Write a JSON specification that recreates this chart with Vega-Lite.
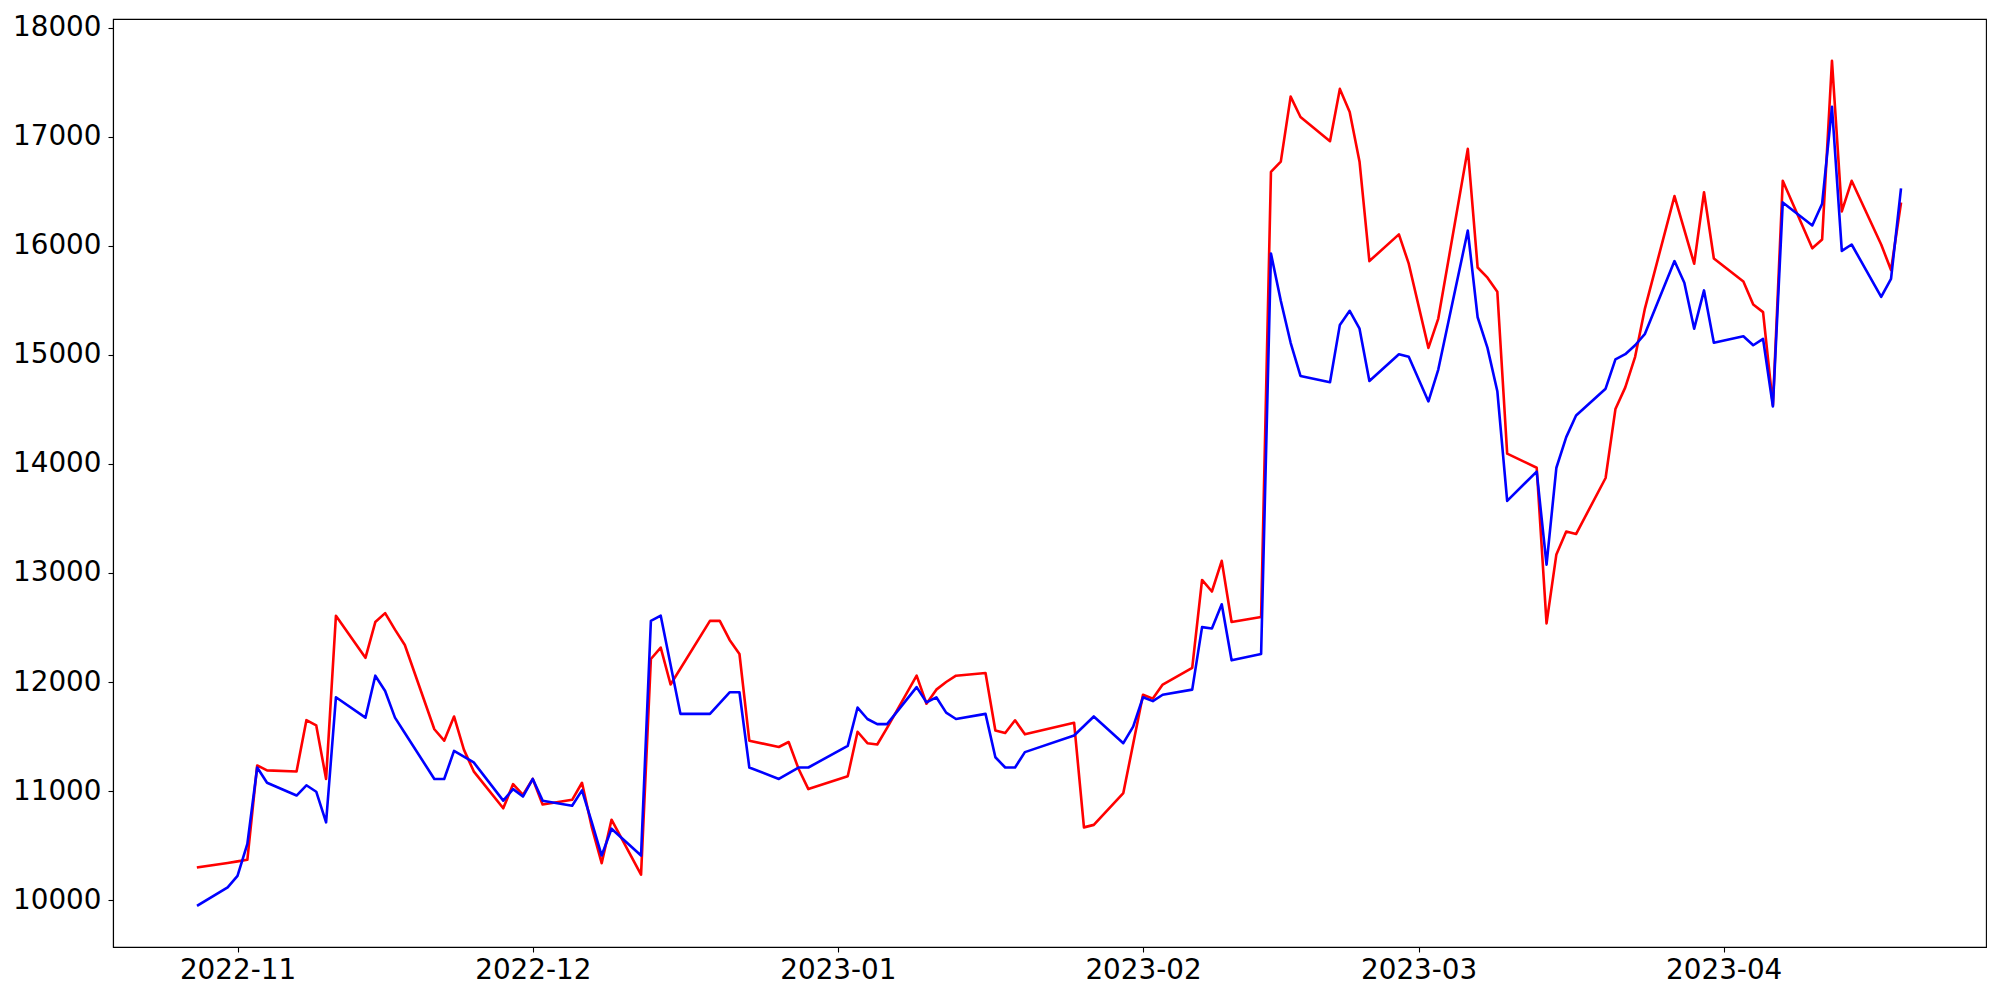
{
  "$schema": "https://vega.github.io/schema/vega-lite/v6.json",
  "width": 1873,
  "height": 928,
  "autosize": {"type": "none"},
  "padding": {"left": 113, "top": 19, "right": 14, "bottom": 53},
  "background": "white",
  "config": {
    "view": {"stroke": "black", "strokeWidth": 1.1},
    "font": "DejaVu Sans",
    "axis": {
      "grid": false,
      "domainColor": "black",
      "domainWidth": 1.1,
      "tickColor": "black",
      "tickWidth": 1.1,
      "tickSize": 5,
      "labelFont": "DejaVu Sans",
      "labelFontSize": 27.8,
      "labelColor": "black",
      "title": null
    }
  },
  "data": {
    "values": [
      {"d": "2022-10-28", "r": 10300, "b": 9953},
      {"d": "2022-10-31", "r": 10340, "b": 10117},
      {"d": "2022-11-01", "r": 10355, "b": 10222},
      {"d": "2022-11-02", "r": 10370, "b": 10515},
      {"d": "2022-11-03", "r": 11235, "b": 11216},
      {"d": "2022-11-04", "r": 11190, "b": 11076},
      {"d": "2022-11-07", "r": 11180, "b": 10959},
      {"d": "2022-11-08", "r": 11650, "b": 11053},
      {"d": "2022-11-09", "r": 11602, "b": 10994},
      {"d": "2022-11-10", "r": 11111, "b": 10713},
      {"d": "2022-11-11", "r": 12608, "b": 11860},
      {"d": "2022-11-14", "r": 12222, "b": 11673},
      {"d": "2022-11-15", "r": 12550, "b": 12058},
      {"d": "2022-11-16", "r": 12632, "b": 11918},
      {"d": "2022-11-17", "r": 12480, "b": 11673},
      {"d": "2022-11-18", "r": 12339, "b": 11532},
      {"d": "2022-11-21", "r": 11567, "b": 11111},
      {"d": "2022-11-22", "r": 11462, "b": 11111},
      {"d": "2022-11-23", "r": 11684, "b": 11368},
      {"d": "2022-11-24", "r": 11380},
      {"d": "2022-11-25", "r": 11181, "b": 11263},
      {"d": "2022-11-28", "r": 10842, "b": 10912},
      {"d": "2022-11-29", "r": 11064, "b": 11018},
      {"d": "2022-11-30", "r": 10965, "b": 10950},
      {"d": "2022-12-01", "r": 11111, "b": 11111},
      {"d": "2022-12-02", "r": 10877, "b": 10912},
      {"d": "2022-12-05", "r": 10920, "b": 10865},
      {"d": "2022-12-06", "r": 11076, "b": 11006},
      {"d": "2022-12-07", "r": 10667, "b": 10713},
      {"d": "2022-12-08", "r": 10339, "b": 10409},
      {"d": "2022-12-09", "r": 10737, "b": 10655},
      {"d": "2022-12-12", "r": 10234, "b": 10409},
      {"d": "2022-12-13", "r": 12211, "b": 12561},
      {"d": "2022-12-14", "r": 12316, "b": 12608},
      {"d": "2022-12-15", "r": 11977},
      {"d": "2022-12-16", "b": 11708},
      {"d": "2022-12-19", "r": 12561, "b": 11708},
      {"d": "2022-12-20", "r": 12561},
      {"d": "2022-12-21", "r": 12386, "b": 11906},
      {"d": "2022-12-22", "r": 12257, "b": 11906},
      {"d": "2022-12-23", "r": 11462, "b": 11216},
      {"d": "2022-12-26", "r": 11404, "b": 11111},
      {"d": "2022-12-27", "r": 11450},
      {"d": "2022-12-28", "r": 11205, "b": 11216},
      {"d": "2022-12-29", "r": 11018, "b": 11216},
      {"d": "2023-01-02", "r": 11135, "b": 11415},
      {"d": "2023-01-03", "r": 11544, "b": 11766},
      {"d": "2023-01-04", "r": 11439, "b": 11661},
      {"d": "2023-01-05", "r": 11427, "b": 11614},
      {"d": "2023-01-06", "r": 11579, "b": 11614},
      {"d": "2023-01-09", "r": 12058, "b": 11953},
      {"d": "2023-01-10", "r": 11801, "b": 11813},
      {"d": "2023-01-11", "r": 11930, "b": 11860},
      {"d": "2023-01-12", "r": 12000, "b": 11719},
      {"d": "2023-01-13", "r": 12058, "b": 11661},
      {"d": "2023-01-16", "r": 12082, "b": 11708},
      {"d": "2023-01-17", "r": 11556, "b": 11310},
      {"d": "2023-01-18", "r": 11532, "b": 11216},
      {"d": "2023-01-19", "r": 11649, "b": 11216},
      {"d": "2023-01-20", "r": 11520, "b": 11357},
      {"d": "2023-01-25", "r": 11626, "b": 11509},
      {"d": "2023-01-26", "r": 10667},
      {"d": "2023-01-27", "r": 10690, "b": 11684},
      {"d": "2023-01-30", "r": 10982, "b": 11439},
      {"d": "2023-01-31", "b": 11591},
      {"d": "2023-02-01", "r": 11883, "b": 11860},
      {"d": "2023-02-02", "r": 11848, "b": 11825},
      {"d": "2023-02-03", "r": 11977, "b": 11883},
      {"d": "2023-02-06", "r": 12129, "b": 11930},
      {"d": "2023-02-07", "r": 12936, "b": 12503},
      {"d": "2023-02-08", "r": 12830, "b": 12491},
      {"d": "2023-02-09", "r": 13111, "b": 12713},
      {"d": "2023-02-10", "r": 12550, "b": 12199},
      {"d": "2023-02-13", "r": 12596, "b": 12257},
      {"d": "2023-02-14", "r": 16678, "b": 15930},
      {"d": "2023-02-15", "r": 16772, "b": 15497},
      {"d": "2023-02-16", "r": 17368, "b": 15111},
      {"d": "2023-02-17", "r": 17181, "b": 14807},
      {"d": "2023-02-20", "r": 16959, "b": 14749},
      {"d": "2023-02-21", "r": 17439, "b": 15275},
      {"d": "2023-02-22", "r": 17228, "b": 15404},
      {"d": "2023-02-23", "r": 16772, "b": 15240},
      {"d": "2023-02-24", "r": 15860, "b": 14760},
      {"d": "2023-02-27", "r": 16105, "b": 15006},
      {"d": "2023-02-28", "r": 15836, "b": 14982},
      {"d": "2023-03-02", "r": 15064, "b": 14573},
      {"d": "2023-03-03", "r": 15333, "b": 14865},
      {"d": "2023-03-06", "r": 16889, "b": 16140},
      {"d": "2023-03-07", "r": 15801, "b": 15345},
      {"d": "2023-03-08", "r": 15708, "b": 15064},
      {"d": "2023-03-09", "r": 15579, "b": 14667},
      {"d": "2023-03-10", "r": 14094, "b": 13661},
      {"d": "2023-03-13", "r": 13965, "b": 13930},
      {"d": "2023-03-14", "r": 12538, "b": 13076},
      {"d": "2023-03-15", "r": 13170, "b": 13965},
      {"d": "2023-03-16", "r": 13380, "b": 14246},
      {"d": "2023-03-17", "r": 13357, "b": 14444},
      {"d": "2023-03-20", "r": 13871, "b": 14690},
      {"d": "2023-03-21", "r": 14503, "b": 14959},
      {"d": "2023-03-22", "r": 14702, "b": 15006},
      {"d": "2023-03-23", "r": 14982, "b": 15088},
      {"d": "2023-03-24", "r": 15427, "b": 15193},
      {"d": "2023-03-27", "r": 16456, "b": 15860},
      {"d": "2023-03-28", "b": 15661},
      {"d": "2023-03-29", "r": 15836, "b": 15240},
      {"d": "2023-03-30", "r": 16491, "b": 15591},
      {"d": "2023-03-31", "r": 15883, "b": 15111},
      {"d": "2023-04-03", "r": 15673, "b": 15170},
      {"d": "2023-04-04", "r": 15462, "b": 15088},
      {"d": "2023-04-05", "r": 15392, "b": 15146},
      {"d": "2023-04-06", "r": 14538, "b": 14526},
      {"d": "2023-04-07", "r": 16596, "b": 16398},
      {"d": "2023-04-10", "r": 15977, "b": 16187},
      {"d": "2023-04-11", "r": 16058, "b": 16386},
      {"d": "2023-04-12", "r": 17696, "b": 17275},
      {"d": "2023-04-13", "r": 16316, "b": 15953},
      {"d": "2023-04-14", "r": 16596, "b": 16012},
      {"d": "2023-04-17", "r": 16012, "b": 15532},
      {"d": "2023-04-18", "r": 15778, "b": 15696},
      {"d": "2023-04-19", "r": 16386, "b": 16515}
    ]
  },
  "transform": [
    {"fold": ["r", "b"], "as": ["series", "value"]},
    {"filter": "isValid(datum.value)"}
  ],
  "encoding": {
    "x": {
      "field": "d",
      "type": "temporal",
      "scale": {
        "type": "utc",
        "domain": [
          {"year": 2022, "month": 10, "date": 19, "hours": 8, "minutes": 24, "utc": true},
          {"year": 2023, "month": 4, "date": 27, "hours": 15, "minutes": 36, "utc": true}
        ],
        "nice": false
      },
      "axis": {
        "format": "%Y-%m",
        "tickCount": {"interval": "month", "step": 1},
        "labelPadding": 4,
        "labelFlush": false,
        "labelOverlap": false
      }
    },
    "y": {
      "field": "value",
      "type": "quantitative",
      "scale": {"domain": [9570, 18080], "nice": false, "zero": false},
      "axis": {
        "values": [10000, 11000, 12000, 13000, 14000, 15000, 16000, 17000, 18000],
        "format": "d",
        "labelPadding": 7
      }
    },
    "color": {
      "field": "series",
      "type": "nominal",
      "scale": {"domain": ["r", "b"], "range": ["#ff0000", "#0000ff"]},
      "legend": null
    }
  },
  "layer": [
    {
      "transform": [{"filter": "datum.series === 'r'"}],
      "mark": {"type": "line", "strokeWidth": 2.6, "strokeJoin": "round", "strokeCap": "square"}
    },
    {
      "transform": [{"filter": "datum.series === 'b'"}],
      "mark": {"type": "line", "strokeWidth": 2.6, "strokeJoin": "round", "strokeCap": "square"}
    }
  ]
}
